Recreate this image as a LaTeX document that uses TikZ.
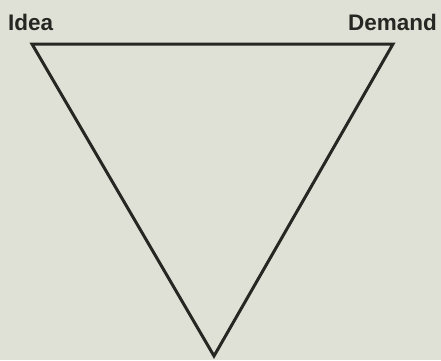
\documentclass[tikz,border=0pt]{standalone}
\usepackage{fontspec}
\setmainfont{Liberation Sans}
\usepackage{tikz}
\definecolor{paper}{RGB}{224,225,214}
\definecolor{ink}{RGB}{38,38,34}

\begin{document}
\begin{tikzpicture}[x=1pt,y=-1pt,label/.style={text=ink,font=\fontsize{22.5}{26}\selectfont\bfseries,inner sep=0pt}]
\fill[paper] (0,0) rectangle (441,360);
\useasboundingbox (0,0) rectangle (441,360);
\coordinate (idea) at (32,44);\coordinate (demand) at (393,44);\coordinate (tip) at (214,356);
\draw[ink,line width=3pt,line join=miter] (idea)--(demand)--(tip)--cycle;
\node[label,anchor=base west] (ideatext) at (8,30) {Idea};
\node[label,anchor=base east] (demandtext) at (437,30) {Demand};
\end{tikzpicture}
\end{document}
